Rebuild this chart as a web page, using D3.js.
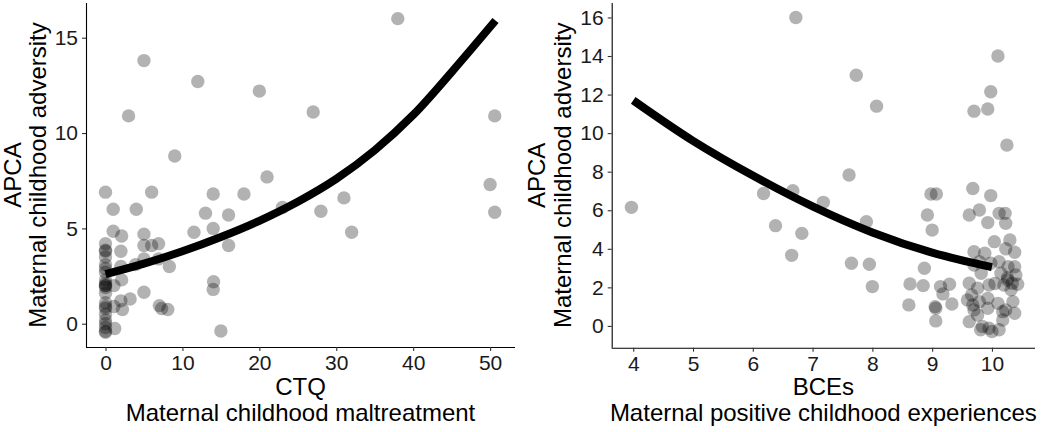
<!DOCTYPE html>
<html><head><meta charset="utf-8">
<script src="https://cdn.jsdelivr.net/npm/d3@7"></script>
<style>body{margin:0;background:#fff}svg{display:block}text{font-family:"Liberation Sans",Arial,sans-serif}</style>
</head><body>
<svg id="c" width="1050" height="432"></svg>
<script>
// ---- Left panel data: CTQ vs APCA ----
const ctqX = [38,5,12,20,3,27,50.6,9,21,50,0,6,14,18,1,4,23,31,28,50.6,13,16,11.5,32,14,1,2.1,5,5,6,6.9,16,2,5,6.9,3.9,8.3,2,2.1,14.05,14,1.1,5,3.2,2,2.2,1.1,7,7.3,8.1,1.2,15,
  0,0,0,0,0,0,0,0,0,0,0,0,0,0,0,0,0,0,0,0,0,0];
const ctqY = [16.0,13.8,12.7,12.2,10.9,11.1,10.9,8.8,7.7,7.3,6.9,6.9,6.8,6.8,6.0,6.0,6.1,6.6,5.9,5.85,5.8,5.7,4.8,4.8,5.0,4.85,4.6,4.7,4.1,4.1,4.2,4.1,3.8,3.4,3.4,3.1,3.0,3.0,2.3,2.2,1.8,2.0,1.65,1.3,1.2,0.75,0.9,0.95,0.8,0.75,-0.25,-0.38,
  4.2,3.85,3.8,3.5,3.1,2.9,2.7,2.3,2.1,2.0,2.0,1.9,1.6,1.1,0.9,0.8,0.5,0.2,0.0,-0.2,-0.4,-0.45];
const ctqFitX = [0,5,10,15,20,25,30,35,40,45,50.7];
const ctqFitY = [2.6,3.15,3.8,4.55,5.4,6.4,7.6,9.1,10.95,13.2,15.9];
const ctqTicks = [0,10,20,30,40,50];
const ctqYTicks = [0,5,10,15];

// ---- Right panel data: BCEs vs APCA ----
const bceX = [6.72,10.1,7.73,9.98,8.07,9.70,9.93,10.25,7.61,3.97,6.18,6.67,7.18,6.38,6.82,6.65,7.9,7.65,7.95,8.0,
  8.98,9.07,8.92,9.0,8.87,8.63,8.85,8.61,9.14,9.29,9.18,9.33,9.05,9.06,9.06,
  9.68,9.98,9.62,9.79,9.93,10.12,10.22,10.23,10.04,10.3,10.23,10.38,9.70,9.88,10.12,9.79,9.70,9.82,9.98,10.27,10.38,10.4,10.15,10.26,10.34,10.43,10.2,10.32,
  9.62,9.76,9.95,9.59,9.68,9.79,9.93,10.1,10.35,9.70,9.76,9.93,10.18,10.23,10.38,9.62,9.84,9.95,9.81,10.0,10.12,10.18,9.66,10.26,10.05];
const bceY = [16.0,14.0,13.0,12.15,11.4,11.14,11.25,9.38,7.83,6.15,6.87,7.01,6.41,5.2,4.8,3.66,5.4,3.25,3.2,2.04,
  6.84,6.84,5.75,4.97,2.99,2.18,2.09,1.09,2.04,2.16,1.66,1.14,1.0,0.92,0.26,
  7.13,6.76,5.75,6.01,5.36,5.84,5.84,5.32,4.37,4.46,4.0,3.82,3.85,3.77,3.33,3.33,3.16,2.73,3.25,3.07,3.07,2.64,2.73,2.38,2.21,2.16,2.12,1.87,
  2.21,1.95,2.12,1.35,1.09,1.26,1.43,1.17,1.26,0.83,0.57,0.92,0.74,0.83,0.66,0.22,-0.03,-0.12,-0.2,-0.29,-0.2,0.31,1.6,2.5,2.2];
const bceFitX = [4,5,6,7,8,9,10];
const bceFitY = [11.7,9.6,7.8,6.2,4.85,3.8,3.05];
const bceTicks = [4,5,6,7,8,9,10];
const bceYTicks = [0,2,4,6,8,10,12,14,16];

const svg = d3.select("#c");

function panel(o){
  const g = svg.append("g");
  const x = d3.scaleLinear().domain(o.xd).range([o.left,o.right]);
  const y = d3.scaleLinear().domain(o.yd).range([o.bottom,o.top]);
  g.append("g").selectAll("circle").data(o.px.map((v,i)=>[v,o.py[i]])).join("circle")
    .attr("cx",d=>x(d[0])).attr("cy",d=>y(d[1])).attr("r",6.7)
    .attr("fill","#000").attr("fill-opacity",0.3);
  g.append("path").datum(o.fx.map((v,i)=>[v,o.fy[i]]))
    .attr("d",d3.line().x(d=>x(d[0])).y(d=>y(d[1])).curve(d3.curveCatmullRom))
    .attr("fill","none").attr("stroke","#000").attr("stroke-width",8);
  const ax = g.append("g").attr("transform",`translate(0,${o.bottom})`)
    .call(d3.axisBottom(x).tickValues(o.xt).tickSize(4).tickPadding(4).tickFormat(d3.format("d")));
  const ay = g.append("g").attr("transform",`translate(${o.left},0)`)
    .call(d3.axisLeft(y).tickValues(o.yt).tickSize(4).tickPadding(4).tickFormat(d3.format("d")));
  [ax,ay].forEach(a=>{
    a.select(".domain").attr("stroke","#000").attr("stroke-width",1.1)
      .attr("d", a===ax ? `M${o.left},0.5H${o.right}` : `M0.5,${o.bottom}V${o.top}`);
    a.selectAll(".tick line").attr("stroke","#333").attr("stroke-width",1.1);
    a.selectAll(".tick text").attr("fill","#1a1a1a").style("font-size","21px");
  });
  const cx = (o.left+o.right)/2;
  g.append("text").attr("x",cx).attr("y",395).attr("text-anchor","middle")
    .style("font-size","24px").attr("fill","#000").text(o.xt1);
  g.append("text").attr("x",cx).attr("y",421).attr("text-anchor","middle")
    .style("font-size","24px").attr("fill","#000").text(o.xt2);
  const cy = (o.top+o.bottom)/2;
  g.append("text").attr("transform",`translate(${o.yb1},${cy}) rotate(-90)`).attr("text-anchor","middle")
    .style("font-size","24px").attr("fill","#000").text("APCA");
  g.append("text").attr("transform",`translate(${o.yb2},${cy}) rotate(-90)`).attr("text-anchor","middle")
    .style("font-size","24px").attr("fill","#000").text("Maternal childhood adversity");
}

panel({left:86,right:515,top:3,bottom:347,xd:[-2.535,53.235],yd:[-1.22,16.82],
  px:ctqX,py:ctqY,fx:ctqFitX,fy:ctqFitY,xt:ctqTicks,yt:ctqYTicks,
  xt1:"CTQ",xt2:"Maternal childhood maltreatment",yb1:21,yb2:46});
panel({left:611.7,right:1035,top:3,bottom:347.7,xd:[3.64,10.72],yd:[-1.13,16.75],
  px:bceX,py:bceY,fx:bceFitX,fy:bceFitY,xt:bceTicks,yt:bceYTicks,
  xt1:"BCEs",xt2:"Maternal positive childhood experiences",yb1:545,yb2:571});
</script>
</body></html>
